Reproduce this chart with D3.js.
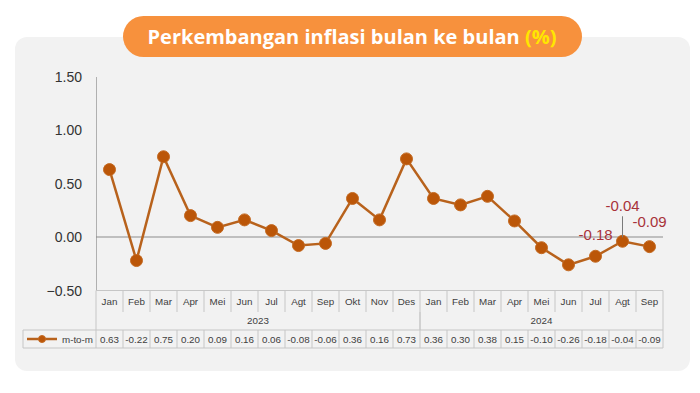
<!DOCTYPE html>
<html lang="id">
<head>
  <meta charset="UTF-8">
  <title>Perkembangan inflasi bulan ke bulan</title>
  <script src="https://d3js.org/d3.v7.min.js"></script>
  <style>
    body { margin: 0; background: #ffffff; }
    svg { display: block; }
    .tick-y { font-family: 'Liberation Sans', Arial, sans-serif; font-size: 14px; fill: #333; }
    .cell { font-family: 'Liberation Sans', Arial, sans-serif; font-size: 9.8px; fill: #404040; }
    .grid { stroke: #c6c6c6; stroke-width: 1; }
    .series { fill: none; stroke: #b8621c; stroke-width: 2.5; }
    .dot { fill: #bb5608; stroke: #c46a22; stroke-width: 1; }
    .dlabel { font-family: 'Liberation Sans', Arial, sans-serif; font-size: 15px; fill: #a8323a; }
  </style>
</head>
<body>
<svg width="700" height="393"></svg>
<script>
  const months = ["Jan","Feb","Mar","Apr","Mei","Jun","Jul","Agt","Sep","Okt","Nov","Des",
                  "Jan","Feb","Mar","Apr","Mei","Jun","Jul","Agt","Sep"];
  const years = [{ label: "2023", count: 12 }, { label: "2024", count: 9 }];
  const mtm = [0.63,-0.22,0.75,0.20,0.09,0.16,0.06,-0.08,-0.06,0.36,0.16,0.73,
               0.36,0.30,0.38,0.15,-0.10,-0.26,-0.18,-0.04,-0.09];
  const yTicks = [-0.5, 0, 0.5, 1.0, 1.5];
  const seriesName = "m-to-m";
  // labelled points: index, dx, dy (offsets relative to the point)
  const callouts = [{ i: 18, dx: 0, dy: -16 }, { i: 19, dx: 0, dy: -30, leader: true }, { i: 20, dx: 0, dy: -20 }];

  const svg = d3.select("svg");

  // panel
  svg.append("rect").attr("x", 15).attr("y", 37).attr("width", 675).attr("height", 334)
    .attr("rx", 12).attr("fill", "#f2f2f2");

  // title pill
  svg.append("rect").attr("x", 123).attr("y", 16).attr("width", 459).attr("height", 41)
    .attr("rx", 20.5).attr("fill", "#f7913d");
  const title = svg.append("text").attr("x", 352).attr("y", 44).attr("text-anchor", "middle")
    .style("font-family", "'Open Sans', sans-serif").style("font-size", "20px").style("font-weight", "bold")
    .attr("fill", "#fff");
  title.append("tspan").text("Perkembangan inflasi bulan ke bulan ");
  title.append("tspan").attr("fill", "#ffe600").text("(%)");

  const plotL = 96, plotR = 663, plotT = 76.5, plotB = 290.5;
  const x = d3.scaleBand().domain(d3.range(months.length)).range([plotL, plotR]);
  const y = d3.scaleLinear().domain([-0.5, 1.5]).range([plotB, plotT]);
  const cx = i => x(i) + x.bandwidth() / 2;

  // y axis
  const yAxis = svg.append("g").attr("transform", `translate(${plotL},0)`)
    .call(d3.axisLeft(y).tickValues(yTicks).tickFormat(d3.format(".2f")).tickSize(0).tickPadding(14));
  yAxis.select(".domain").attr("stroke", "#b0b0b0");
  yAxis.selectAll("text").attr("class", "tick-y").attr("dy", "0.35em");

  // zero line
  svg.append("line").attr("x1", plotL).attr("x2", plotR).attr("y1", y(0)).attr("y2", y(0))
    .attr("stroke", "#8c8c8c").attr("stroke-width", 1);

  // table
  const r0 = plotB, r1 = 312, r2 = 330, r3 = 348, legL = 23;
  const tbl = svg.append("g");
  const xEdge = i => i < months.length ? x(i) : plotR;
  tbl.append("line").attr("class", "grid").attr("x1", plotL).attr("x2", plotR).attr("y1", r0).attr("y2", r0);
  tbl.append("line").attr("class", "grid").attr("x1", legL).attr("x2", plotR).attr("y1", r2).attr("y2", r2);
  tbl.append("line").attr("class", "grid").attr("x1", legL).attr("x2", plotR).attr("y1", r3).attr("y2", r3);
  tbl.append("line").attr("class", "grid").attr("x1", legL).attr("x2", legL).attr("y1", r2).attr("y2", r3);
  tbl.selectAll(".vm").data(d3.range(months.length + 1)).join("line").attr("class", "grid")
    .attr("x1", xEdge).attr("x2", xEdge).attr("y1", r0).attr("y2", r1);
  tbl.selectAll(".vd").data(d3.range(months.length + 1)).join("line").attr("class", "grid")
    .attr("x1", xEdge).attr("x2", xEdge).attr("y1", r2).attr("y2", r3);
  let start = 0;
  const yearPos = years.map(d => { const p = { label: d.label, a: start, b: start + d.count }; start += d.count; return p; });
  yearPos.forEach(p => {
    const xa = xEdge(p.a), xb = xEdge(p.b);
    tbl.append("line").attr("class", "grid").attr("x1", xa).attr("x2", xa).attr("y1", r1).attr("y2", r2);
    tbl.append("line").attr("class", "grid").attr("x1", xb).attr("x2", xb).attr("y1", r1).attr("y2", r2);
    tbl.append("text").attr("class", "cell").attr("x", (xa + xb) / 2).attr("y", r1 + 12)
      .attr("text-anchor", "middle").text(p.label);
  });
  tbl.selectAll(".mt").data(months).join("text").attr("class", "cell")
    .attr("x", (d, i) => cx(i)).attr("y", r0 + 14).attr("text-anchor", "middle").text(d => d);
  tbl.selectAll(".vt").data(mtm).join("text").attr("class", "cell")
    .attr("x", (d, i) => cx(i)).attr("y", r2 + 12.5).attr("text-anchor", "middle")
    .text(d => d3.format(".2f")(d).replace("−", "-"));

  // legend key
  tbl.append("line").attr("x1", 27).attr("x2", 57).attr("y1", 339).attr("y2", 339)
    .attr("stroke", "#b8621c").attr("stroke-width", 2.5);
  tbl.append("circle").attr("cx", 42).attr("cy", 339).attr("r", 3.5).attr("class", "dot");
  tbl.append("text").attr("class", "cell").attr("x", 93).attr("y", r2 + 12.5)
    .attr("text-anchor", "end").text(seriesName);

  // series
  const line = d3.line().x((d, i) => cx(i)).y(d => y(d));
  svg.append("path").datum(mtm).attr("class", "series").attr("d", line);
  svg.selectAll(".dot-p").data(mtm).join("circle").attr("class", "dot")
    .attr("cx", (d, i) => cx(i)).attr("cy", d => y(d)).attr("r", 6);

  // callouts
  callouts.forEach(c => {
    const px = cx(c.i), py = y(mtm[c.i]);
    if (c.leader) {
      svg.append("line").attr("x1", px).attr("x2", px).attr("y1", py - 25).attr("y2", py - 4)
        .attr("stroke", "#7a7a7a").attr("stroke-width", 1);
    }
    svg.append("text").attr("class", "dlabel").attr("x", px + c.dx).attr("y", py + c.dy)
      .attr("text-anchor", "middle").text(d3.format(".2f")(mtm[c.i]).replace("−", "-"));
  });
</script>
</body>
</html>
